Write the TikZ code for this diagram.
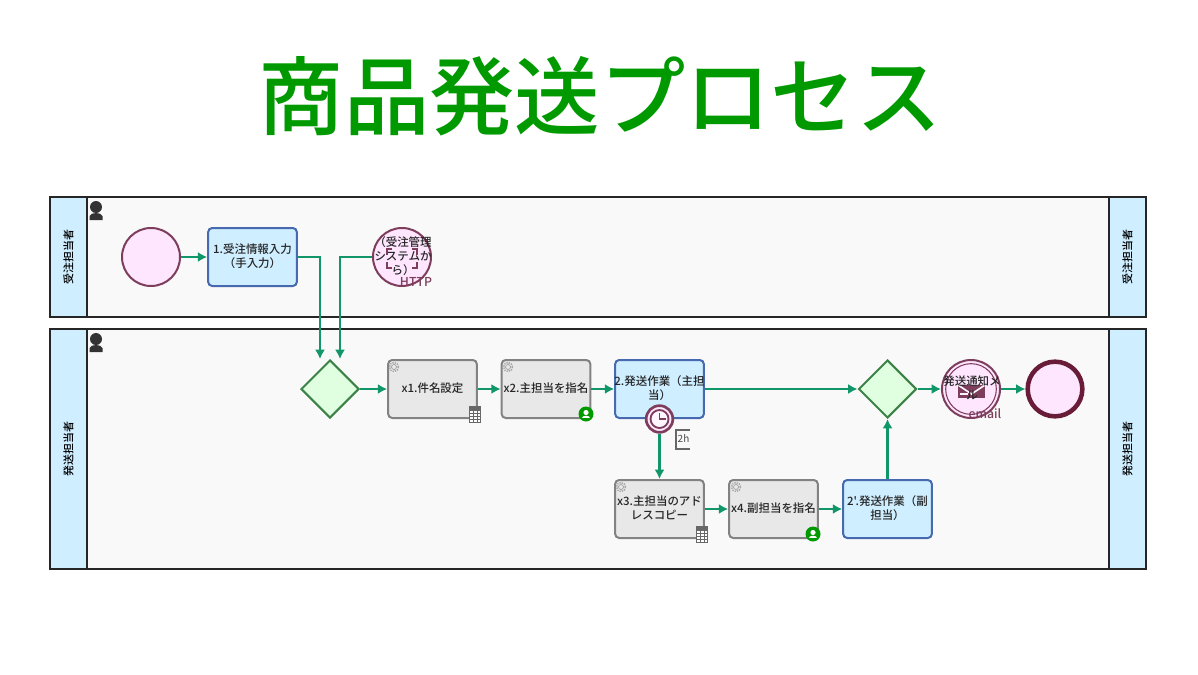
\documentclass[tikz,border=0pt]{standalone}
\usepackage{fontspec}
\setmainfont{Noto Sans CJK JP}
\newfontfamily\medfont{Noto Sans CJK JP Medium}
\usetikzlibrary{arrows.meta,shapes.geometric}
\definecolor{titlegreen}{RGB}{0,153,0}
\definecolor{lanefill}{RGB}{249,249,249}
\definecolor{headfill}{RGB}{207,238,255}
\definecolor{eventfill}{RGB}{255,230,255}
\definecolor{eventline}{RGB}{125,62,92}
\definecolor{endline}{RGB}{105,28,56}
\definecolor{taskline}{RGB}{70,105,175}
\definecolor{autofill}{RGB}{232,232,232}
\definecolor{autoline}{RGB}{130,130,130}
\definecolor{gatefill}{RGB}{224,255,224}
\definecolor{gateline}{RGB}{60,130,70}
\definecolor{flowline}{RGB}{16,150,104}
\tikzset{
  lanebox/.style={draw=black!85,line width=1.5pt,fill=lanefill},
  headbox/.style={draw=black!85,line width=1.5pt,fill=headfill},
  headtext/.style={rotate=90,font=\fontsize{8.2pt}{9pt}\selectfont\medfont,inner sep=0pt},
  usertask/.style={draw=taskline,line width=1.5pt,fill=headfill,rounded corners=3pt,minimum width=66.5pt,minimum height=43.5pt,inner sep=0pt},
  autotask/.style={draw=autoline,line width=1.5pt,fill=autofill,rounded corners=3pt,minimum width=66.5pt,minimum height=43.5pt,inner sep=0pt},
  tasktext/.style={font=\fontsize{8.6pt}{10.5pt}\selectfont\medfont,align=center,inner sep=0pt,text=black!85},
  gate/.style={diamond,draw=gateline,line width=1.5pt,fill=gatefill,minimum width=43.5pt,minimum height=43.5pt,inner sep=0pt},
  event/.style={circle,draw=eventline,line width=1.5pt,fill=eventfill,minimum size=43.5pt,inner sep=0pt},
  flow/.style={draw=flowline,line width=1.6pt,-{Latex[length=7pt,width=7.5pt]}},
  smalltext/.style={font=\fontsize{9.2pt}{10pt}\selectfont\medfont,text=eventline,inner sep=0pt},
  pics/gearicon/.style={code={
    \draw[autoline!70,line width=1.1pt,dash pattern=on 1pt off 0.8pt] (0,0) circle (4.5);
    \draw[autoline!80,line width=0.5pt] (0,0) circle (2.5);
  }},
  pics/calcicon/.style={code={
    \draw[autoline!80!black,fill=white,line width=0.6pt] (-5.5,8) rectangle (5.5,-8);
    \fill[autoline!80!black] (-5.5,8) rectangle (5.5,3.5);
    \foreach \gridx in {-2,2} \draw[autoline!80!black,line width=0.5pt] (\gridx,3.5) -- (\gridx,-8);
    \foreach \gridy in {0.5,-2.5,-5.5} \draw[autoline!80!black,line width=0.5pt] (-5.5,\gridy) -- (5.5,\gridy);
  }},
  pics/usericon/.style={code={
    \fill[titlegreen] (0,0) circle (7.5);
    \fill[white] (0,1.5) circle (2.6);
    \fill[white] (-3.8,-4) .. controls (-3.8,-0.5) and (3.8,-0.5) .. (3.8,-4) -- cycle;
  }},
  pics/personicon/.style={code={
    \fill[black!80] (0,4) circle (6);
    \fill[black!80] (-6.5,-9) -- (-6.5,-5) .. controls (-5.5,-1) and (5.5,-1) .. (6.5,-5) -- (6.5,-9) -- cycle;
  }}
}
\begin{document}
\begin{tikzpicture}[x=0.75pt,y=0.75pt,yscale=-1,xscale=1]
    \useasboundingbox (0,0) rectangle (1198,674);

    % Title
    \node (title) at (600,96) [text=titlegreen,font=\fontsize{64pt}{66pt}\selectfont\medfont,inner sep=0pt] {商品発送プロセス};

    %Lanes
    \draw [lanebox] (50,197) rectangle (1146,317);
    \draw [headbox] (50,197) rectangle (87,317);
    \draw [headbox] (1109,197) rectangle (1146,317);
    \draw [lanebox] (50,329) rectangle (1146,569);
    \draw [headbox] (50,329) rectangle (87,569);
    \draw [headbox] (1109,329) rectangle (1146,569);
    \node (headA) at (68.5,257) [headtext] {受注担当者};
    \node (headAr) at (1127.5,257) [headtext] {受注担当者};
    \node (headB) at (68.5,449) [headtext] {発送担当者};
    \node (headBr) at (1127.5,449) [headtext] {発送担当者};
    \pic at (96,211) {personicon};
    \pic at (96,343) {personicon};

    % Shapes
    \node (start) at (151,257) [event] {};
    \node (task1) at (252.5,257) [usertask] {};
    \node (msg) at (402,257) [event] {};
    \node (gateA) at (330,389) [gate] {};
    \node (x1) at (432.5,389) [autotask] {};
    \node (x2) at (546,389) [autotask] {};
    \node (task2) at (659.5,389) [usertask] {};
    \node (x3) at (659.5,509) [autotask] {};
    \node (x4) at (773.5,509) [autotask] {};
    \node (task2b) at (887.5,509) [usertask] {};
    \node (gateB) at (887.5,389) [gate] {};
    \node (mail) at (971,389) [event] {};
    \node (mailin) at (971,389) [circle,draw=eventline,line width=0.8pt,minimum size=38pt,inner sep=0pt] {};
    \node (end) at (1055,389) [event,draw=endline,line width=3.4pt,minimum size=41pt] {};
    \node (timer) at (659.5,419) [circle,draw=eventline,line width=2pt,fill=eventfill,minimum size=20pt,inner sep=0pt] {};
    \node (timerin) at (659.5,419) [circle,draw=eventline,line width=1.4pt,fill=white!60!eventfill,minimum size=13.5pt,inner sep=0pt] {};

    % Icons
    \pic at (394,367) {gearicon};
    \pic at (508,367) {gearicon};
    \pic at (621,487) {gearicon};
    \pic at (736,487) {gearicon};
    \pic at (475,414) {calcicon};
    \pic at (702,534) {calcicon};
    \pic at (586,414) {usericon};
    \pic at (813,534) {usericon};
    \draw [eventline,line width=1pt] (659.5,413) -- (659.5,419) -- (666,419);
    \draw [eventline,line width=1.2pt] (392,249) -- (387,249) -- (387,255) (412,249) -- (417,249) -- (417,255) (392,268) -- (387,268) -- (387,262) (412,268) -- (417,268) -- (417,262);
    \fill [eventline] (958,385) rectangle (985,398);
    \draw [white!60!eventfill,line width=1.2pt] (958,385) -- (971.5,394) -- (985,385);
    \draw [white!60!eventfill,line width=1pt] (960,394) -- (968,394);

    % 2h box
    \draw [black!60,line width=0.8pt] (690,430) -- (676,430) -- (676,449) -- (690,449);
    \node (late) at (683.5,439) [font=\fontsize{7.5pt}{8pt}\selectfont,text=black!70,inner sep=0pt] {2h};

    % Connectors
    \coordinate (inA) at (320,359);
    \coordinate (inB) at (340,359);
    \draw [flow] (start) -- (task1);
    \draw [flow] (task1.east) -| (inA);
    \draw [flow] (msg.west) -| (inB);
    \draw [flow] (gateA) -- (x1);
    \draw [flow] (x1) -- (x2);
    \draw [flow] (x2) -- (task2);
    \draw [flow] (task2) -- (gateB);
    \draw [flow] (timer.south) -- (x3.north);
    \draw [flow] (x3) -- (x4);
    \draw [flow] (x4) -- (task2b);
    \draw [flow] (task2b.north) -- (gateB.south);
    \draw [flow] (gateB) -- (mail);
    \draw [flow] (mail) -- (end);

    % Text Node
    \node (task1txt) at (252.5,256) [tasktext] {1.受注情報入力\\（手入力）};
    \node (msgtxt) at (403,256) [tasktext] {（受注管理\\システムか\\ら）};
    \node (httptxt) at (416,282) [smalltext] {HTTP};
    \node (x1txt) at (432.5,388) [tasktext] {x1.件名設定};
    \node (x2txt) at (546,388) [tasktext] {x2.主担当を指名};
    \node (task2txt) at (659.5,388) [tasktext] {2.発送作業（主担\\当）};
    \node (x3txt) at (659.5,508) [tasktext] {x3.主担当のアド\\レスコピー};
    \node (x4txt) at (773.5,508) [tasktext] {x4.副担当を指名};
    \node (task2btxt) at (887.5,508) [tasktext] {2'.発送作業（副\\担当）};
    \node (mailtxt) at (972,388) [tasktext] {発送通知メ\\ル};
    \node (mailsub) at (985,414) [smalltext] {email};
\end{tikzpicture}
\end{document}
